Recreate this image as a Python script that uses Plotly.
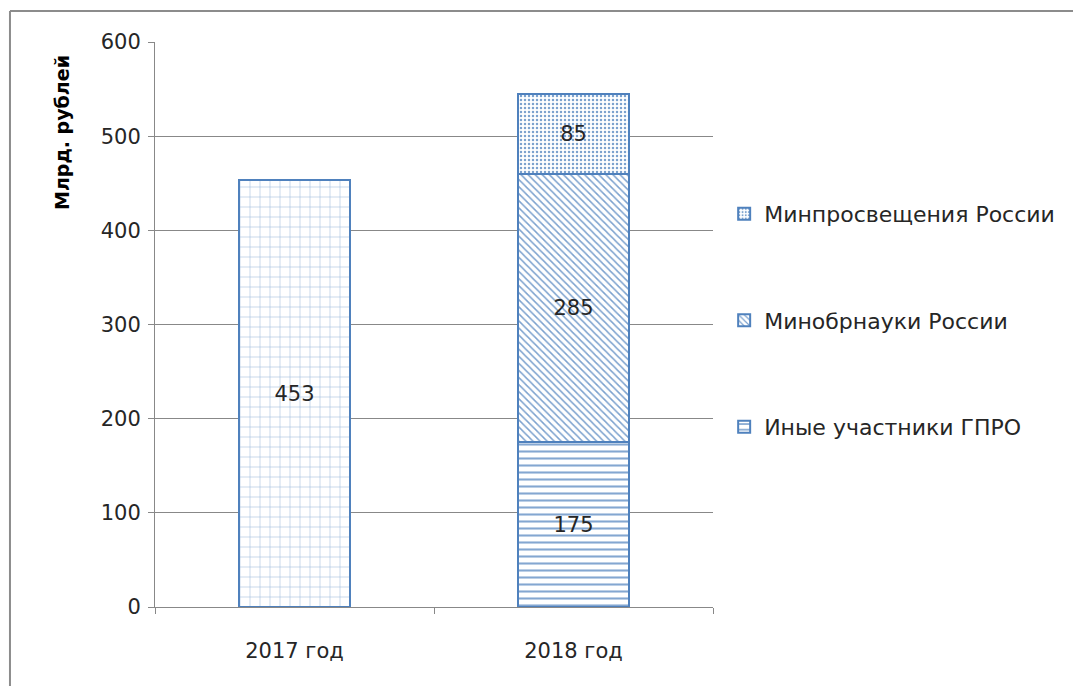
import plotly.graph_objects as go

categories = ["2017 год", "2018 год"]
total_2017 = [453, None]
inye = [None, 175]
minobr = [None, 285]
minpros = [None, 85]
series_names = ["Иные участники ГПРО", "Минобрнауки России", "Минпросвещения России"]
y_ticks = [0, 100, 200, 300, 400, 500, 600]

BLUE = "#4F81BD"
FONT = "DejaVu Sans"
TXT = "#262626"

def bar(y, name, shape, size, solidity, opacity, rank, legend=True):
    return go.Bar(
        x=categories, y=y, name=name, showlegend=legend, legendgroup=name,
        legendrank=rank,
        text=[("" if v is None else str(v)) for v in y],
        textposition="inside", insidetextanchor="middle",
        textfont=dict(family=FONT, size=21, color=TXT),
        marker=dict(color="white", line=dict(color=BLUE, width=2),
                    pattern=dict(shape=shape, fgcolor=BLUE, bgcolor="white",
                                 fgopacity=opacity, size=size, solidity=solidity)),
        width=0.4,
    )

fig = go.Figure()
fig.add_trace(bar(total_2017, "2017", "+", 10, 0.1, 0.6, 1000, legend=False))
fig.add_trace(bar(inye, series_names[0], "-", 7, 0.3, 0.7, 3))
fig.add_trace(bar(minobr, series_names[1], "\\", 5, 0.3, 0.75, 2))
fig.add_trace(bar(minpros, series_names[2], ".", 4, 0.3, 0.75, 1))

# page body has an 8px offset; margins compensate so the plot area lands at x 155-713, y 42-607
fig.update_layout(
    barmode="stack",
    width=1081, height=686,
    margin=dict(l=147, r=376, t=34, b=87),
    paper_bgcolor="white", plot_bgcolor="white",
    font=dict(family=FONT, size=21, color=TXT),
    uniformtext=dict(minsize=10, mode="show"),
    legend=dict(x=1.02, y=0.733, xanchor="left", yanchor="top",
                traceorder="grouped", tracegroupgap=75,
                font=dict(family=FONT, size=22, color=TXT),
                itemwidth=30),
    shapes=[
        dict(type="line", xref="paper", yref="paper",
             x0=-0.2599, x1=1.7, y0=1.0549, y1=1.0549,
             line=dict(color="#8C8C8C", width=2)),
        dict(type="line", xref="paper", yref="paper",
             x0=-0.2599, x1=-0.2599, y0=-0.2, y1=1.0549,
             line=dict(color="#8C8C8C", width=2)),
    ],
    annotations=[
        dict(text="<b>Млрд. рублей</b>", xref="paper", yref="paper",
             x=-0.1667, y=0.8407, xanchor="center", yanchor="middle",
             textangle=-90, showarrow=False,
             font=dict(family=FONT, size=19, color="#000000")),
    ],
)
fig.update_yaxes(range=[0, 600], tickvals=y_ticks, showgrid=True, gridcolor="#888888",
                 gridwidth=1, showline=True, linecolor="#888888", linewidth=1,
                 ticks="outside", ticklen=6, tickcolor="#888888",
                 ticklabelstandoff=3,
                 tickfont=dict(family=FONT, size=21, color=TXT),
                 zeroline=False)
fig.update_xaxes(showline=True, linecolor="#888888", linewidth=1, ticks="outside",
                 tickson="boundaries", ticklen=6, tickcolor="#888888",
                 ticklabelstandoff=25,
                 tickfont=dict(family=FONT, size=21, color=TXT))

fig.write_html("out.html")
